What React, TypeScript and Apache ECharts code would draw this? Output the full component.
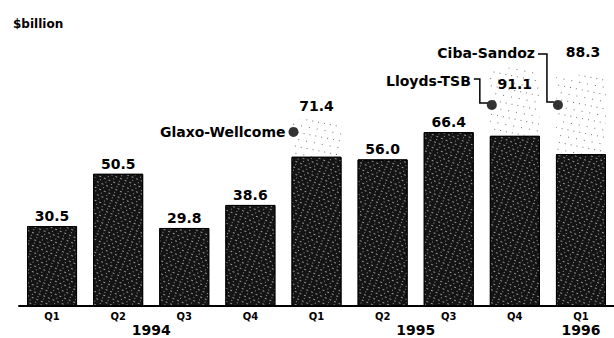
import React, { useEffect, useRef } from 'react';
import * as echarts from 'echarts';

const quarters = ['Q1', 'Q2', 'Q3', 'Q4', 'Q1', 'Q2', 'Q3', 'Q4', 'Q1'];
const baseValues = [30.5, 50.5, 29.8, 38.6, 57.0, 56.0, 66.4, 65.0, 58.0];
const totalValues = [30.5, 50.5, 29.8, 38.6, 71.4, 56.0, 66.4, 91.1, 88.3];
const yearLabels = ['1994', '1995', '1996'];
const yearCenters = [1.5, 5.5, 8];
const dealNames = ['Glaxo-Wellcome', 'Lloyds-TSB', 'Ciba-Sandoz'];
const dealIndex = [4, 7, 8];
const dealMarkerValues = [66.5, 76.8, 76.8];

const FONT = '"DejaVu Sans", sans-serif';

export default function App() {
  const ref = useRef<HTMLDivElement>(null);
  useEffect(() => {
    if (!ref.current) return;
    const chart = echarts.init(ref.current, null, { renderer: 'svg' });
    const extra = totalValues.map((t, i) => {
      const d = +(t - baseValues[i]).toFixed(1);
      return d > 0 ? d : '-';
    });
    const markerData = quarters.map((_, i) => {
      const k = dealIndex.indexOf(i);
      return k >= 0 ? dealMarkerValues[k] : '-';
    });
    chart.setOption({
      animation: false,
      backgroundColor: '#fff',
      title: {
        text: '$billion',
        left: 8,
        top: 13,
        textStyle: { fontSize: 12, fontWeight: 'bold', fontFamily: FONT, color: '#000' },
      },
      grid: { left: 19, right: -6, top: 18, bottom: 32 },
      xAxis: {
        type: 'category',
        data: quarters,
        axisLine: { lineStyle: { color: '#000', width: 2 } },
        axisTick: { show: false },
        axisLabel: { fontSize: 10, fontWeight: 'bold', color: '#000', margin: 5, fontFamily: FONT },
      },
      yAxis: { type: 'value', min: 0, max: 110, show: false, splitLine: { show: false } },
      series: [
        {
          type: 'bar',
          stack: 'a',
          barWidth: 50,
          data: baseValues.map((v, i) => ({
            value: v,
            label: { show: totalValues[i] === v },
          })),
          itemStyle: {
            color: '#141414',
            borderColor: '#000',
            borderWidth: 1,
            decal: {
              symbol: 'rect',
              symbolSize: 1,
              color: 'rgba(255,255,255,0.55)',
              dashArrayX: [[2, 3], [1, 5]],
              dashArrayY: [1, 2],
              rotation: 0.4,
            },
          },
          label: {
            position: 'top',
            distance: 3,
            fontSize: 14,
            fontWeight: 'bold',
            fontFamily: FONT,
            color: '#000',
            formatter: (p: any) => totalValues[p.dataIndex].toFixed(1),
          },
        },
        {
          type: 'bar',
          stack: 'a',
          barWidth: 50,
          data: extra.map((v, i) => {
            if (v === '-') return '-';
            if (i === 7) return { value: v, label: { position: 'insideTop', distance: 10 } };
            if (i === 8) return { value: v, label: { offset: [2, -10] } };
            return v;
          }),
          itemStyle: {
            color: 'rgba(255,255,255,0)',
            decal: {
              symbol: 'rect',
              symbolSize: 1,
              color: 'rgba(0,0,0,0.55)',
              dashArrayX: [[1, 7], [1, 5]],
              dashArrayY: [1, 6],
              rotation: 0.2,
            },
          },
          label: {
            show: true,
            position: 'top',
            distance: 6,
            fontSize: 14,
            fontWeight: 'bold',
            fontFamily: FONT,
            color: '#000',
            formatter: (p: any) => totalValues[p.dataIndex].toFixed(1),
          },
        },
        {
          type: 'scatter',
          data: markerData,
          symbol: 'circle',
          symbolSize: 10,
          symbolOffset: [-23, 0],
          itemStyle: { color: '#000' },
          z: 5,
        },
      ],
    });

    const px = (idx: number, val: number) =>
      chart.convertToPixel({ gridIndex: 0 }, [idx, val]) as number[];
    const graphics: any[] = [];
    const y0 = px(0, 0)[1];
    yearLabels.forEach((lab, k) => {
      const c = yearCenters[k];
      const lo = Math.floor(c), hi = Math.ceil(c);
      const x = (px(lo, 0)[0] + px(hi, 0)[0]) / 2;
      graphics.push({
        type: 'text',
        x,
        y: y0 + 24,
        style: { text: lab, fontSize: 14, fontWeight: 'bold', fontFamily: FONT, fill: '#000', align: 'center', verticalAlign: 'middle' },
      });
    });
    const textStyle = { fontSize: 14, fontWeight: 'bold', fontFamily: FONT, fill: '#000', align: 'right', verticalAlign: 'middle' };
    // Glaxo-Wellcome
    {
      const m = px(dealIndex[0], dealMarkerValues[0]);
      const mx = m[0] - 23, my = m[1];
      graphics.push({ type: 'text', x: mx - 8, y: my, style: { ...textStyle, text: dealNames[0] } });
    }
    // Lloyds-TSB
    {
      const m = px(dealIndex[1], dealMarkerValues[1]);
      const mx = m[0] - 23, my = m[1];
      graphics.push({ type: 'text', x: mx - 21, y: my - 24, style: { ...textStyle, text: dealNames[1] } });
      graphics.push({
        type: 'polyline',
        shape: { points: [[mx - 18, my - 26], [mx - 12, my - 26], [mx - 12, my - 2], [mx - 4, my - 2]] },
        style: { stroke: '#000', lineWidth: 1.5, fill: 'none' },
      });
    }
    // Ciba-Sandoz
    {
      const m = px(dealIndex[2], dealMarkerValues[2]);
      const mx = m[0] - 23, my = m[1];
      graphics.push({ type: 'text', x: mx - 23, y: my - 52, style: { ...textStyle, text: dealNames[2] } });
      graphics.push({
        type: 'polyline',
        shape: { points: [[mx - 20, my - 51], [mx - 11, my - 51], [mx - 11, my - 3], [mx - 4, my - 3]] },
        style: { stroke: '#000', lineWidth: 1.5, fill: 'none' },
      });
    }
    chart.setOption({ graphic: graphics });

    return () => chart.dispose();
  }, []);
  return (
    <div
      ref={ref}
      style={{ position: 'fixed', left: 0, top: 0, width: 614, height: 338, background: '#fff' }}
    />
  );
}
